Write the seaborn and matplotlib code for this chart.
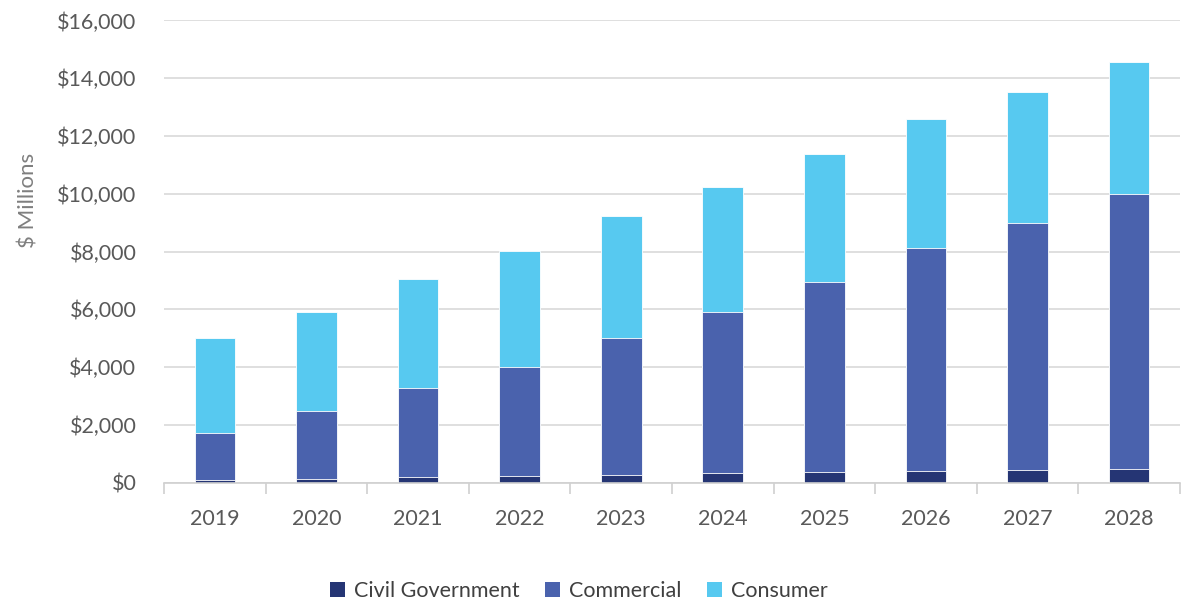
import matplotlib
matplotlib.use("Agg")
import matplotlib.pyplot as plt
import seaborn as sns
import pandas as pd
import numpy as np
from matplotlib.patches import Patch
from matplotlib.ticker import FuncFormatter, FixedLocator

years = ["2019", "2020", "2021", "2022", "2023", "2024", "2025", "2026", "2027", "2028"]
civil_government = [100, 140, 180, 230, 280, 320, 370, 415, 420, 460]
commercial = [1610, 2340, 3100, 3770, 4720, 5580, 6590, 7715, 8550, 9540]
consumer = [3290, 3420, 3760, 4030, 4220, 4340, 4430, 4470, 4560, 4560]
series_names = ["Civil Government", "Commercial", "Consumer"]
colors = ["#253574", "#4A62AD", "#57C9F0"]

sns.set_theme(style="white")
plt.rcParams["font.family"] = ["Lato", "DejaVu Sans"]

df = pd.DataFrame({
    "year": years,
    "civil": civil_government,
    "commercial": commercial,
    "consumer": consumer,
})
df["lvl1"] = df["civil"]
df["lvl2"] = df["civil"] + df["commercial"]
df["lvl3"] = df["lvl2"] + df["consumer"]

fig, ax = plt.subplots(figsize=(11.81, 6.01), dpi=100)
fig.subplots_adjust(left=0.139, right=0.999, top=0.966, bottom=0.197)

for col, c in zip(["lvl3", "lvl2", "lvl1"], colors[::-1]):
    sns.barplot(data=df, x="year", y=col, color=c, width=0.4, ax=ax,
                saturation=1, edgecolor="white", linewidth=0.6)

ax.set_ylim(0, 16000)
ax.set_xlim(-0.5, 9.5)
ax.set_yticks(np.arange(0, 16001, 2000))
ax.yaxis.set_major_formatter(FuncFormatter(lambda v, p: f"${int(v):,}"))
ax.yaxis.grid(True, color="#d9d9d9", linewidth=1.2)
ax.set_axisbelow(True)
for s in ["top", "right", "left"]:
    ax.spines[s].set_visible(False)
ax.spines["bottom"].set_color("#d0d0d0")
ax.spines["bottom"].set_linewidth(1.2)

ax.xaxis.set_minor_locator(FixedLocator(np.arange(-0.5, 10, 1)))
ax.tick_params(axis="x", which="minor", length=8, color="#d0d0d0", width=1.2, bottom=True)
ax.tick_params(axis="x", which="major", length=0, pad=19, labelsize=15.5, labelcolor="#595959")
ax.tick_params(axis="y", length=0, pad=20, labelsize=15.5, labelcolor="#595959")

ax.set_xlabel("")
ax.set_ylabel("$ Millions", fontsize=16, color="#7f7f7f")
ax.yaxis.set_label_coords(-0.124, 0.61)

handles = [Patch(facecolor=c, edgecolor="none") for c in colors]
fig.legend(handles, series_names, loc="lower center", bbox_to_anchor=(0.49, -0.033),
           ncol=3, frameon=False, fontsize=15.5, handlelength=0.7, handleheight=0.7,
           columnspacing=1.2, handletextpad=0.4, labelcolor="#404040")

fig.savefig("out.png", dpi=100)
